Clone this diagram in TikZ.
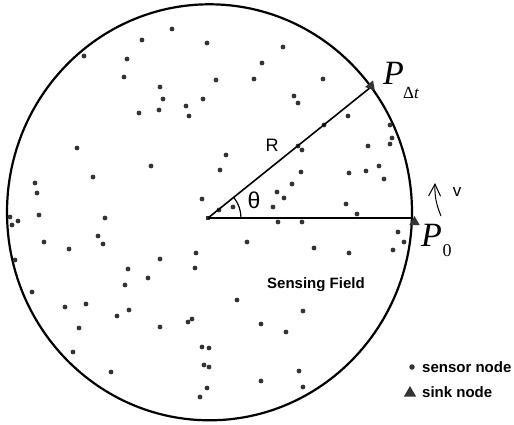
\documentclass[tikz,border=0pt]{standalone}
\usepackage{fontspec}
\setmainfont{Liberation Serif}
\newfontfamily\arial{Liberation Sans}
\usetikzlibrary{shapes.geometric,arrows.meta,calc}
\definecolor{dotgray}{HTML}{333333}
\tikzset{
  sensor/.style={circle,fill=dotgray,inner sep=0pt,minimum size=4.8pt},
  sinktri/.style={regular polygon,regular polygon sides=3,fill=dotgray,inner sep=0pt,minimum size=12pt},
  lbl/.style={inner sep=0pt,font=\arial\bfseries\fontsize{15}{18}\selectfont},
  plain/.style={inner sep=0pt,font=\arial\fontsize{#1}{#1}\selectfont},
  bigP/.style={inner sep=0pt,anchor=base west,font=\fontsize{34}{34}\selectfont\itshape},
  subtxt/.style={inner sep=0pt,anchor=base west,font=\fontsize{#1}{#1}\selectfont}
}
\begin{document}
\begin{tikzpicture}[x=1pt,y=1pt,yscale=-1]
\useasboundingbox (0,0) rectangle (514,425);
% sensing field
\draw[line width=2.2pt] (209.5,212.3) ellipse [x radius=202.5, y radius=208];
% sensor nodes
\foreach \p [count=\i] in {
(172,29),(142,40),(207,43),(127,59),(84,56),(124,77),(216,80),(254,79),(160,87),(163,99),
(203,99),(186,106),(189,116),(139,113),(159,110),(77,148),(151,166),(226,155),(220,170),(93,177),
(35,183),(37,193),(202,199),(39,215),(105,218),(10,217),(219,210),(233,207),
(283,47),(262,63),(323,79),(294,96),(298,103),(348,116),(324,125),(298,146),(302,150),
(390,125),(392,138),(390,144),(368,146),
(301,172),(349,173),(366,171),(379,166),(384,179),(292,184),(277,192),(284,198),(273,207),(346,204),(357,214),
(278,222),(302,222),(398,232),(404,242),(393,250),(247,242),(314,248),(349,253),(196,253),(195,268),
(12,225),(18,221),(44,242),(69,249),(98,236),(103,244),(15,260),(160,259),(128,269),(148,278),(125,285),
(32,292),(65,307),(86,304),(129,310),(117,316),(237,300),(79,328),(160,327),(188,322),(192,319),
(73,352),(202,347),(209,348),(204,365),(209,367),(111,372),(207,388),(200,397),
(303,311),(261,324),(286,332),(261,381),(299,371),(303,387)}
  \node[sensor] (s\i) at \p {};
% geometry
\coordinate (O) at (208,218);
\coordinate (P0) at (412,218);
\coordinate (Pdt) at (371,87);
\coordinate (A0) at (241,218);
\node[rectangle,fill=dotgray,inner sep=0pt,minimum size=4.5pt] (ctr) at (O) {};
\draw[line width=2.6pt] (O) -- (P0);
\draw[line width=1.6pt] (O) -- (Pdt);
\draw[line width=1.2pt] (A0) arc[start angle=0,end angle=-38.6,radius=33];
\node[sinktri] (t0) at (414.5,222) {};
\node[sinktri,rotate=-20] (tdt) at (371,86) {};
% labels
\node[plain=18] (R) at (272,145) {R};
\node[plain=23] (th) at (254,200) {θ};
\node[plain=17] (v) at (457,192) {v};
\coordinate (va) at (441,216);
\coordinate (vb) at (435,183);
\draw[line width=1pt,-{Straight Barb[length=12pt,width=12pt,line width=1pt]}] (va) to[bend right=12] (vb);
\node[bigP] (Pdtl) at (383,85) {P};
\node[subtxt=17] (dt) at (403,99) {Δ\textit{t}};
\node[bigP] (P0l) at (421,246) {P};
\node[subtxt=18] (zero) at (442.5,256) {0};
\node[lbl,anchor=base west] (sf) at (267,288) {Sensing Field};
% legend
\node[sensor,minimum size=5.5pt] (legdot) at (412,367) {};
\node[lbl,anchor=base west] (legs) at (422,372) {sensor node};
\node[sinktri,minimum size=14pt] (legtri) at (410,393) {};
\node[lbl,anchor=base west] (legk) at (422,397) {sink node};
\end{tikzpicture}
\end{document}
